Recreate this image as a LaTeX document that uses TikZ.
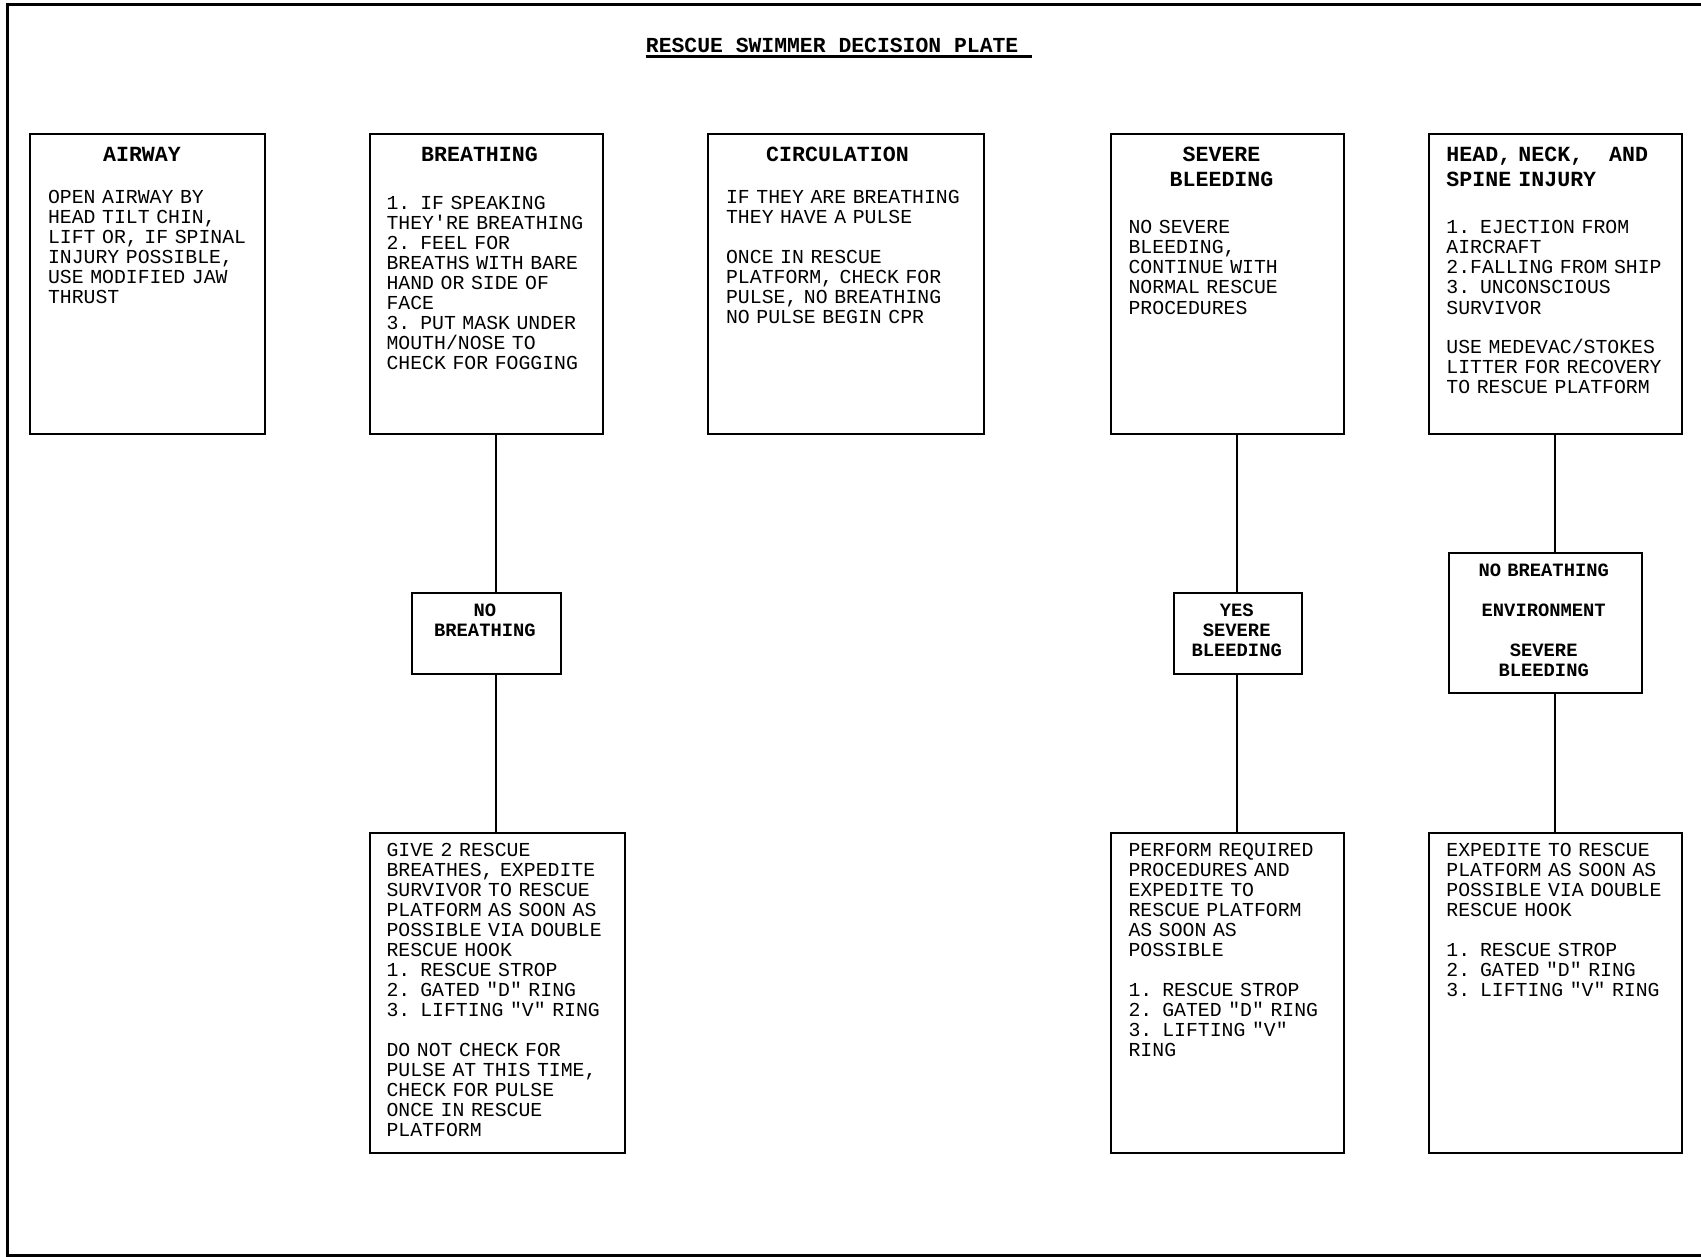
\documentclass[tikz,border=0pt]{standalone}
\usepackage{fontspec}
\setmonofont{Liberation Mono}
\begin{document}
\begin{tikzpicture}[x=0.5pt,y=-0.5pt,
  box/.style={draw, line width=1pt, rectangle, inner sep=0pt, anchor=north west},
  body/.style={anchor=base west, inner sep=0pt, text width=150pt, align=left, font=\ttfamily\fontsize{9.9pt}{10pt}\selectfont},
  head/.style={inner sep=0pt, text width=150pt, align=center, anchor=base, font=\ttfamily\bfseries\fontsize{10.8pt}{12.5pt}\selectfont},
  small/.style={inner sep=0pt, text width=100pt, align=center, anchor=base, font=\ttfamily\bfseries\fontsize{9.4pt}{10pt}\selectfont},
  link/.style={line width=1pt}]
\useasboundingbox (0,0) rectangle (1701,1257);
% page frame
\draw[line width=1.5pt] (1720,5) -- (7,5) -- (7,1255) -- (1720,1255);
% title
\node[anchor=base west, inner sep=0pt, font=\ttfamily\bfseries\fontsize{10.7pt}{13pt}\selectfont] (title) at (645.5,52.7) {RESCUE SWIMMER DECISION PLATE\hbox to 0.6em{}};
\draw[line width=1.5pt] ([yshift=-1.9pt]title.base west) -- ([yshift=-1.9pt]title.base east);
% top boxes
\node[box, minimum width=117.5pt, minimum height=150pt] (airway) at (29,133) {};
\node[box, minimum width=116.5pt, minimum height=150pt] (breathing) at (369,133) {};
\node[box, minimum width=138pt, minimum height=150pt] (circulation) at (707,133) {};
\node[box, minimum width=116.5pt, minimum height=150pt] (severe) at (1110,133) {};
\node[box, minimum width=126.5pt, minimum height=150pt] (spine) at (1428,133) {};
% middle boxes
\node[box, minimum width=74.5pt, minimum height=40.5pt] (nob) at (411,592) {};
\node[box, minimum width=64pt, minimum height=40.5pt] (yes) at (1173,592) {};
\node[box, minimum width=96.5pt, minimum height=70pt] (env) at (1448,552) {};
% bottom boxes
\node[box, minimum width=127.5pt, minimum height=160pt] (give) at (369,832) {};
\node[box, minimum width=116.5pt, minimum height=160pt] (perform) at (1110,832) {};
\node[box, minimum width=126.5pt, minimum height=160pt] (expedite) at (1428,832) {};
% connectors
\coordinate (cb) at (496,0);
\coordinate (cs) at (1237,0);
\coordinate (ch) at (1554.5,0);
\draw[link] (breathing.south -| cb) -- (nob.north -| cb);
\draw[link] (nob.south -| cb) -- (give.north -| cb);
\draw[link] (severe.south -| cs) -- (yes.north -| cs);
\draw[link] (yes.south -| cs) -- (perform.north -| cs);
\draw[link] (spine.south -| ch) -- (env.north -| ch);
\draw[link] (env.south -| ch) -- (expedite.north -| ch);
% headings
\node[head] (h1) at (142,161.2) {AIRWAY};
\node[head] (h2) at (479.5,161.2) {BREATHING};
\node[head] (h3) at (837.5,161.2) {CIRCULATION};
\node[head] (h4) at (1221.5,161.2) {SEVERE\\BLEEDING};
\node[head, align=left, anchor=base west] (h5) at (1446,161.2) {HEAD, NECK,\hbox to 1.2em{}AND\\SPINE INJURY};
% body texts
\node[body] (t1) at (47.7,203.6) {OPEN AIRWAY BY\\HEAD TILT CHIN,\\LIFT OR, IF SPINAL\\INJURY POSSIBLE,\\USE MODIFIED JAW\\THRUST};
\node[body] (t2) at (386.2,209.1) {1. IF SPEAKING\\THEY'RE BREATHING\\2. FEEL FOR\\BREATHS WITH BARE\\HAND OR SIDE OF\\FACE\\3. PUT MASK UNDER\\MOUTH/NOSE TO\\CHECK FOR FOGGING};
\node[body] (t3) at (725.7,203.6) {IF THEY ARE BREATHING\\THEY HAVE A PULSE\\[10pt]ONCE IN RESCUE\\PLATFORM, CHECK FOR\\PULSE, NO BREATHING\\NO PULSE BEGIN CPR};
\node[body] (t4) at (1128.2,234) {NO SEVERE\\BLEEDING,\\CONTINUE WITH\\NORMAL RESCUE\\PROCEDURES};
\node[body] (t5) at (1446,234) {1. EJECTION FROM\\AIRCRAFT\\2.FALLING FROM SHIP\\3. UNCONSCIOUS\\SURVIVOR\\[10pt]USE MEDEVAC/STOKES\\LITTER FOR RECOVERY\\TO RESCUE PLATFORM};
% decision texts
\node[small] (s1) at (484.9,616.9) {NO\\BREATHING};
\node[small] (s2) at (1236.7,616.9) {YES\\SEVERE\\BLEEDING};
\node[small] (s3) at (1543.7,576.8) {NO BREATHING\\[10pt]ENVIRONMENT\\[10pt]SEVERE\\BLEEDING};
% bottom texts
\node[body] (b1) at (386.2,856.7) {GIVE 2 RESCUE\\BREATHES, EXPEDITE\\SURVIVOR TO RESCUE\\PLATFORM AS SOON AS\\POSSIBLE VIA DOUBLE\\RESCUE HOOK\\1. RESCUE STROP\\2. GATED "D" RING\\3. LIFTING "V" RING\\[10pt]DO NOT CHECK FOR\\PULSE AT THIS TIME,\\CHECK FOR PULSE\\ONCE IN RESCUE\\PLATFORM};
\node[body] (b2) at (1128.2,856.7) {PERFORM REQUIRED\\PROCEDURES AND\\EXPEDITE TO\\RESCUE PLATFORM\\AS SOON AS\\POSSIBLE\\[10pt]1. RESCUE STROP\\2. GATED "D" RING\\3. LIFTING "V"\\RING};
\node[body] (b3) at (1446,856.7) {EXPEDITE TO RESCUE\\PLATFORM AS SOON AS\\POSSIBLE VIA DOUBLE\\RESCUE HOOK\\[10pt]1. RESCUE STROP\\2. GATED "D" RING\\3. LIFTING "V" RING};
\end{tikzpicture}
\end{document}
